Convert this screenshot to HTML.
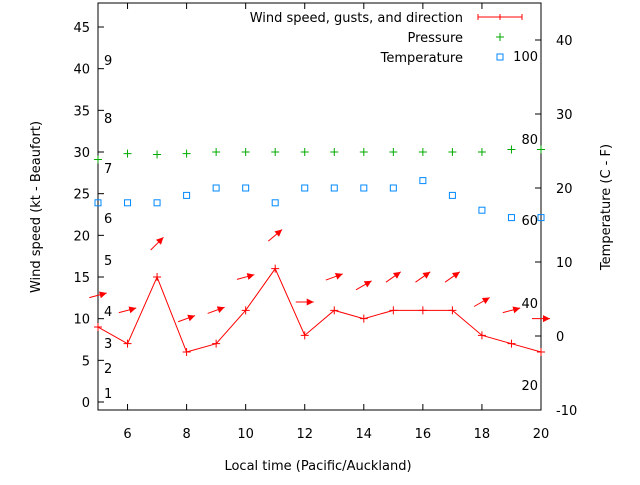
<!DOCTYPE html>
<html><head><meta charset="utf-8"><style>
body{margin:0;background:#fff}
svg text{font-family:"DejaVu Sans","Liberation Sans",sans-serif;font-size:13px;fill:#000}
</style></head><body>
<svg id="c" width="640" height="480">
<rect width="640" height="480" fill="#fff"/>
</svg>
<script>
const hours=[5,6,7,8,9,10,11,12,13,14,15,16,17,18,19,20];
const wind=[9,7,15,6,7,11,16,8,11,10,11,11,11,8,7,6];
const gust=[12.8,11,19,10,11,15,20,12,15,14,15,15,15,12,11,10];
const dirDeg=[15,15,45,20,20,15,40,0,20,30,35,35,35,30,15,0];
const pressure=[29.1,29.8,29.7,29.8,30,30,30,30,30,30,30,30,30,30,30.3,30.3];
const temp=[18,18,18,19,20,20,18,20,20,20,20,21,19,17,16,16];
const leftTicks=[0,5,10,15,20,25,30,35,40,45];
const xTicks=[6,8,10,12,14,16,18,20];
const rightTicks=[-10,0,10,20,30,40];
const beaufort=[[1,393],[2,368],[3,343],[4,311],[5,260],[6,218],[7,168],[8,118],[9,60]];
const fahr=[[20,385],[40,303],[60,220],[80,139],[100,56]];
const L=98,R=541,T=3,B=410;
const X=v=>L+(v-5)*(R-L)/15;
const Y=v=>402-v*8.333;
const Y2=v=>336-v*7.4;
const s=document.getElementById('c'),NS='http://www.w3.org/2000/svg';
function mk(t,a,txt,p){const e=document.createElementNS(NS,t);for(const k in a)e.setAttribute(k,a[k]);if(txt!=null)e.textContent=txt;(p||s).appendChild(e);return e;}
let e;
e=mk('rect',{x:L,y:T,width:R-L,height:B-T,fill:'none',stroke:'#000'});


leftTicks.forEach(v=>{mk('line',{x1:L,x2:L+6,y1:Y(v),y2:Y(v),stroke:'#000'});
e=mk('text',{x:L-8,y:Y(v)+5,'text-anchor':'end'},v);

});
xTicks.forEach(v=>{mk('line',{x1:X(v),x2:X(v),y1:B,y2:B-6,stroke:'#000'});mk('line',{x1:X(v),x2:X(v),y1:T,y2:T+6,stroke:'#000'});
e=mk('text',{x:X(v),y:B+28,'text-anchor':'middle'},v);

});
rightTicks.forEach(v=>{mk('line',{x1:R,x2:R-6,y1:Y2(v),y2:Y2(v),stroke:'#000'});
e=mk('text',{x:R+15,y:Y2(v)+5},v);

});
beaufort.forEach(b=>{e=mk('text',{x:104,y:b[1]+5},b[0]);

});
fahr.forEach(b=>{e=mk('text',{x:538,y:b[1]+5,'text-anchor':'end'},b[0]);

});
e=mk('text',{x:318,y:470,'text-anchor':'middle'},'Local time (Pacific/Auckland)');


e=mk('text',{x:40,y:207,'text-anchor':'middle',transform:'rotate(-90 40 207)'},'Wind speed (kt - Beaufort)');


e=mk('text',{x:610,y:207,'text-anchor':'middle',transform:'rotate(-90 610 207)'},'Temperature (C - F)');


e=mk('polyline',{points:hours.map((h,i)=>X(h)+','+Y(wind[i])).join(' '),fill:'none',stroke:'#f00'});


hours.forEach((h,i)=>{e=mk('path',{d:`M${X(h)-4},${Y(wind[i])}h8M${X(h)},${Y(wind[i])-4}v8`,stroke:'#f00'});

});
hours.forEach((h,i)=>{const a=dirDeg[i]*Math.PI/180,cx=X(h),cy=Y(gust[i]),dx=Math.cos(a)*9,dy=-Math.sin(a)*9;
const g=mk('g',{});


mk('line',{x1:cx-dx,y1:cy-dy,x2:cx+dx,y2:cy+dy,stroke:'#f00'},null,g);
const ux=dx/9,uy=dy/9,tx=cx+dx,ty=cy+dy;
mk('polygon',{points:`${tx},${ty} ${tx-ux*7-uy*3.5},${ty-uy*7+ux*3.5} ${tx-ux*7+uy*3.5},${ty-uy*7-ux*3.5}`,fill:'#f00'},null,g);});
hours.forEach((h,i)=>{e=mk('path',{d:`M${X(h)-4},${Y(pressure[i])}h8M${X(h)},${Y(pressure[i])-4}v8`,stroke:'#0a0'});

});
hours.forEach((h,i)=>{e=mk('rect',{x:X(h)-3,y:Y2(temp[i])-3,width:6,height:6,fill:'none',stroke:'#08f'});

});
const lg=mk('g',{});


mk('text',{x:463,y:22,'text-anchor':'end'},'Wind speed, gusts, and direction',lg);
mk('path',{d:'M478,17h44M478,14v6M522,14v6M500,14v6',stroke:'#f00'},null,lg);
mk('text',{x:463,y:42,'text-anchor':'end'},'Pressure',lg);
mk('path',{d:'M496,37h8M500,33v8',stroke:'#0a0'},null,lg);
mk('text',{x:463,y:62,'text-anchor':'end'},'Temperature',lg);
mk('rect',{x:497,y:54,width:6,height:6,fill:'none',stroke:'#08f'},null,lg);
</script>
</body></html>
